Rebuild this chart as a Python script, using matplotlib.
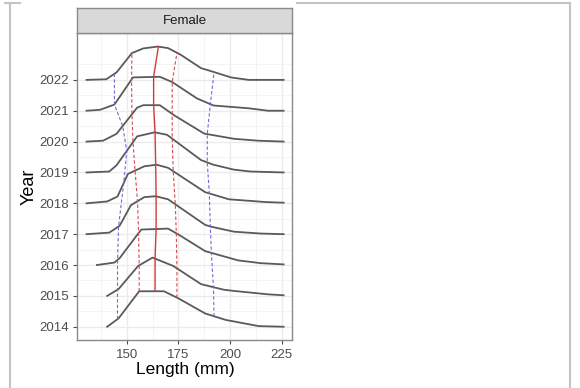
import numpy as np
import matplotlib
matplotlib.use("Agg")
import matplotlib.pyplot as plt
from matplotlib.lines import Line2D

plt.rcParams['font.family'] = ['Liberation Sans', 'DejaVu Sans']

years = [2014, 2015, 2016, 2017, 2018, 2019, 2020, 2021, 2022]

# ridge outlines: length (mm) and scaled density height (in year units)
len_2014 = [140.5, 146, 156, 168, 175, 188, 198, 214, 226]
den_2014 = [0, 0.27, 1.15, 1.15, 0.92, 0.43, 0.22, 0.02, 0]
len_2015 = [140.5, 146, 155.5, 162.5, 172.5, 186, 197, 202, 218.5, 226]
den_2015 = [0, 0.22, 0.97, 1.24, 0.97, 0.38, 0.2, 0.16, 0.05, 0.02]
len_2016 = [135.5, 144, 146.5, 157, 170, 175, 188, 204, 215, 226]
den_2016 = [0, 0.08, 0.22, 1.15, 1.18, 0.99, 0.45, 0.15, 0.06, 0.02]
len_2017 = [130.5, 141.5, 146.5, 152, 158.5, 164, 170, 188, 191, 202, 215, 226]
den_2017 = [0, 0.05, 0.27, 0.94, 1.2, 1.23, 1.13, 0.3, 0.24, 0.08, 0.02, 0]
len_2018 = [130.5, 140.5, 145.5, 150.5, 158.5, 164.5, 170, 188, 199.5, 217.5, 226]
den_2018 = [0, 0.06, 0.22, 0.95, 1.2, 1.25, 1.15, 0.36, 0.13, 0.04, 0.02]
len_2019 = [130.5, 141.5, 145, 155, 163.5, 169.5, 186, 192, 202, 210, 226]
den_2019 = [0, 0.03, 0.23, 1.17, 1.3, 1.22, 0.4, 0.25, 0.09, 0.03, 0]
len_2020 = [130.5, 138.5, 145, 155, 158, 166, 173, 187.5, 202, 213.5, 226]
den_2020 = [0, 0.03, 0.25, 1.1, 1.18, 1.18, 0.85, 0.26, 0.09, 0.03, 0]
len_2021 = [130.5, 137, 144, 153, 166, 172, 184, 192, 209, 218.5, 226]
den_2021 = [0, 0.03, 0.2, 1.08, 1.1, 0.93, 0.4, 0.17, 0.08, 0, 0]
len_2022 = [130.5, 140, 145, 152.5, 158, 165, 170, 176, 186, 191, 200.5, 209, 226]
den_2022 = [0, 0.02, 0.24, 0.87, 1.02, 1.08, 1.03, 0.82, 0.38, 0.28, 0.08, 0, 0]

lengths = [len_2014, len_2015, len_2016, len_2017, len_2018,
           len_2019, len_2020, len_2021, len_2022]
densities = [den_2014, den_2015, den_2016, den_2017, den_2018,
             den_2019, den_2020, den_2021, den_2022]

# quantiles per year
q_low = [145.5, 145.5, 145.5, 146, 148.5, 150, 148, 144, 144]
q_25 = [156, 156, 155.7, 155.2, 154, 153, 152.5, 152.3, 152.5]
q_50 = [163.7, 163.7, 164.2, 164.2, 164, 163.7, 163, 163, 165.3]
q_75 = [174.3, 174.3, 174, 173.5, 172.5, 172, 172, 172, 174.3]
q_high = [192.3, 192, 191, 190.5, 190, 189, 189, 190.5, 192.3]

fig = plt.figure(figsize=(5.8, 3.88), dpi=100)
ax = fig.add_axes([0.1336, 0.1237, 0.3703, 0.7905])

ax.set_xlim(126.1, 230.2)
ax.set_ylim(2013.57, 2023.51)

for v in [137.5, 162.5, 187.5, 212.5]:
    ax.axvline(v, color='#F2F2F2', lw=0.6, zorder=0)
for v in [150, 175, 200, 225]:
    ax.axvline(v, color='#EBEBEB', lw=1.0, zorder=0)
for y in years:
    ax.axhline(y + 0.5, color='#F2F2F2', lw=0.6, zorder=0)
    ax.axhline(y, color='#EBEBEB', lw=1.0, zorder=0)

for y, xs, hs in zip(years, lengths, densities):
    ax.plot(xs, y + np.array(hs), color='#5A5A5A', lw=1.3, zorder=2)

def quant_path(qs):
    ys = [y + np.interp(q, xs, hs) for y, q, xs, hs in zip(years, qs, lengths, densities)]
    return qs, ys

for qs, col, ls, lw in [(q_low, '#6B6BD6', (0, (3, 2)), 0.8),
                        (q_high, '#6B6BD6', (0, (3, 2)), 0.8),
                        (q_25, '#D9484F', (0, (3, 2)), 0.8),
                        (q_75, '#D9484F', (0, (3, 2)), 0.8),
                        (q_50, '#D23A3A', '-', 1.0)]:
    px, py = quant_path(qs)
    ax.plot(px, py, color=col, ls=ls, lw=lw, zorder=3)

ax.set_xticks([150, 175, 200, 225])
ax.set_yticks(years)
ax.set_yticklabels([str(y) for y in years])
ax.tick_params(axis='both', colors='#4D4D4D', labelsize=9.5, length=3, width=0.8)
for s in ax.spines.values():
    s.set_color('#8A8A8A')
    s.set_linewidth(1.0)

ax.set_xlabel('Length (mm)', fontsize=12.5, labelpad=1)
ax.set_ylabel('Year', fontsize=13, labelpad=1)

# facet strip
strip = fig.add_axes([0.1336, 0.9142, 0.3703, 0.0644])
strip.set_xticks([])
strip.set_yticks([])
strip.set_facecolor('#D9D9D9')
for s in strip.spines.values():
    s.set_color('#8A8A8A')
    s.set_linewidth(1.0)
strip.text(0.5, 0.5, 'Female', ha='center', va='center', fontsize=9.5,
           color='#1A1A1A', transform=strip.transAxes)

# page borders around the picture
bc = '#C4C4C4'
fig.add_artist(Line2D([10 / 580, 10 / 580], [0, 0.9915], color=bc, lw=1.5))
fig.add_artist(Line2D([5 / 580, 20 / 580], [0.9915, 0.9915], color=bc, lw=1.5))
fig.add_artist(Line2D([297 / 580, 570 / 580], [0.9915, 0.9915], color=bc, lw=1.5))
fig.add_artist(Line2D([569.5 / 580, 569.5 / 580], [0, 0.9915], color=bc, lw=1.5))

fig.savefig('out.png', dpi=100)
